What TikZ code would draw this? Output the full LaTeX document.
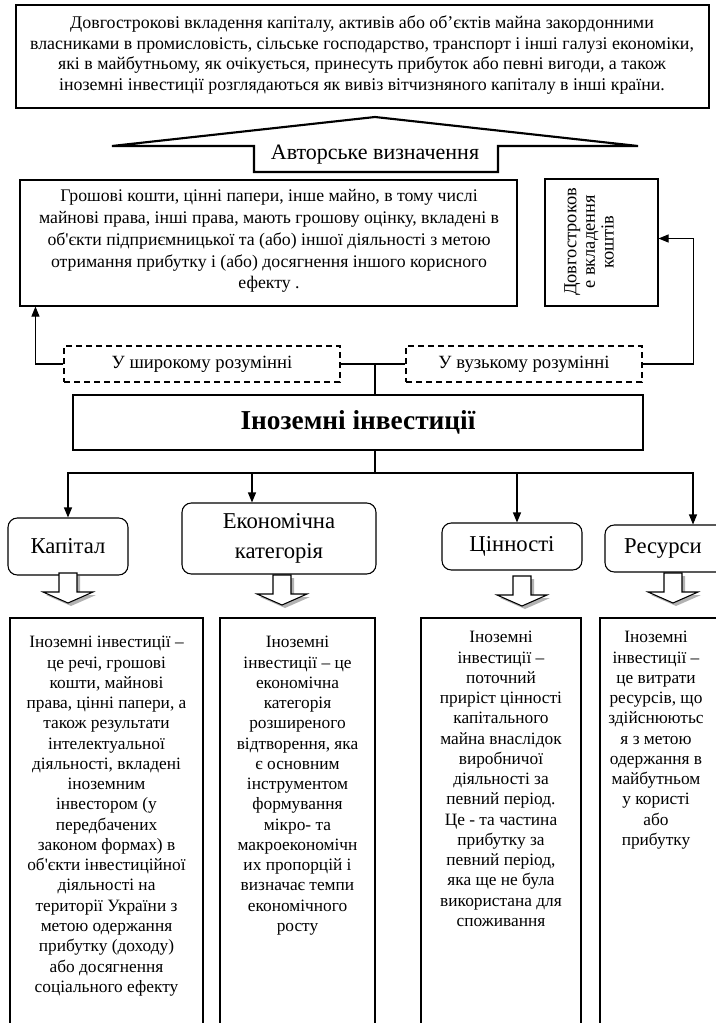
\documentclass[tikz,border=0pt]{standalone}
\usepackage{fontspec}
\setmainfont{Liberation Serif}[Ligatures=TeXOff]
\usetikzlibrary{arrows.meta,calc,fit}

\tikzset{
  frame/.style={draw, line width=0.8pt, inner sep=0pt},
  dashbox/.style={frame, dash pattern=on 4.5pt off 3pt},
  catbox/.style={frame, rounded corners=7pt},
  label text/.style={inner sep=0pt, align=center},
  link/.style={line width=0.8pt},
  arr/.style={link, -{Triangle[length=7.5pt,width=6pt]}},
  bodytext/.style={inner sep=0pt, align=center, font=\fontsize{13}{15.2}\selectfont},
  catfont/.style={font=\fontsize{17}{22}\selectfont},
  blockdown/.pic={
    \fill[black!30, shift={(3,3)}] (-9,0) -- (9,0) -- (9,19) -- (25,19) -- (0,30) -- (-25,19) -- (-9,19) -- cycle;
    \draw[line width=0.8pt, fill=white, line join=miter]
      (-9,0) -- (9,0) -- (9,19) -- (25,19) -- (0,30) -- (-25,19) -- (-9,19) -- cycle;}
}

\begin{document}
\begin{tikzpicture}[x=0.75pt,y=-0.75pt]
\useasboundingbox (0,0) rectangle (715,1023);

% author's definition
\node[frame, fit={(16,5) (709,108)}] (authordef) {};
\node[label text, font=\fontsize{13.4}{15.6}\selectfont] (authordeftxt) at (362,55)
  {Довгострокові вкладення капіталу, активів або об’єктів майна закордонними\\
   власниками в промисловість, сільське господарство, транспорт і інші галузі економіки,\\
   які в майбутньому, як очікується, принесуть прибуток або певні вигоди, а також\\
   іноземні інвестиції розглядаються як вивіз вітчизняного капіталу в інші країни.};

\draw[line width=1.6pt, line join=miter]
  (375,117) -- (638,146) -- (498,146) -- (498,172) -- (254,172) -- (254,146) -- (112,146) -- cycle;
\node[label text, font=\fontsize{16.5}{19}\selectfont] (authorlbl) at (375,155) {Авторське визначення};

% broad and narrow meaning
\node[frame, fit={(20,180) (517,306)}] (broad) {};
\node[label text, font=\fontsize{13.3}{16.4}\selectfont] (broadtxt) at (269,241)
  {Грошові кошти, цінні папери, інше майно, в тому числі\\
   майнові права, інші права, мають грошову оцінку, вкладені в\\
   об'єкти підприємницької та (або) іншої діяльності з метою\\
   отримання прибутку і (або) досягнення іншого корисного\\
   ефекту .};

\node[frame, fit={(545,179) (658,306)}] (narrow) {};
\node[rotate=90, label text, font=\fontsize{13.8}{14}\selectfont] (narrowtxt) at (589,242)
  {Довгостроков\\е вкладення\\коштів};

\node[dashbox, fit={(64,346) (340,382)}] (wide) {};
\node[label text, font=\fontsize{14}{16}\selectfont] (widetxt) at (wide.center) {У широкому розумінні};
\node[dashbox, fit={(406,346) (642,382)}] (tight) {};
\node[label text, font=\fontsize{14}{16}\selectfont] (tighttxt) at (tight.center) {У вузькому розумінні};

\coordinate (join) at (375,364);
\draw[link] (wide.east) -- (tight.west);
\draw[arr] (wide.west) -| ($(broad.south west)+(16,0)$);
\draw[arr] (tight.east) -- ++(51,0) |- ($(narrow.east)+(0,-4)$);

% central notion
\node[frame, fit={(73,395) (643,450)}] (main) {};
\node[label text, font=\bfseries\fontsize{20.5}{24}\selectfont] (maintxt) at (main.center) {Іноземні інвестиції};
\draw[link] (join) -- (join |- main.north);

\coordinate (hub) at (375,473);
\draw[link] (hub |- main.south) -- (hub);

% categories
\node[catbox, fit={(8,518) (128,575)}] (capital) {};
\node[label text, catfont] (capitaltxt) at (capital.center) {Капітал};
\node[catbox, fit={(182,503) (376,574)}] (econ) {};
\node[label text, catfont] (econtxt) at (econ.center) {Економічна\\категорія};
\node[catbox, fit={(442,523) (582,570)}] (values) {};
\node[label text, catfont] (valuestxt) at (values.center) {Цінності};
\node[catbox, fit={(605,525) (740,572)}] (resources) {};
\node[label text, catfont] (resourcestxt) at (663,548.5) {Ресурси};

\draw[arr] (hub) -| (capital.north);
\draw[arr] (hub) -| ($(econ.north)+(-27,0)$);
\draw[arr] (hub) -| ($(values.north)+(5,0)$);
\draw[arr] (hub) -| ($(resources.north)+(20.5,0)$);

\pic at (68,573) {blockdown};
\pic at (282,575) {blockdown};
\pic at (522,576) {blockdown};
\pic at (673,573) {blockdown};

% descriptions
\node[frame, fit={(10,618) (203,1040)}] (capdesc) {};
\node[frame, fit={(220,618) (375,1040)}] (econdesc) {};
\node[frame, fit={(421,618) (581,1040)}] (valdesc) {};
\node[frame, fit={(600,618) (740,1040)}] (resdesc) {};

\node[bodytext, anchor=north] (captxt) at (106.5,636)
  {Іноземні інвестиції –\\це речі, грошові\\кошти, майнові\\права, цінні папери, а\\також результати\\інтелектуальної\\діяльності, вкладені\\іноземним\\інвестором (у\\передбачених\\законом формах) в\\об'єкти інвестиційної\\діяльності на\\території України з\\метою одержання\\прибутку (доходу)\\або досягнення\\соціального ефекту};
\node[bodytext, anchor=north] (econtxt2) at (297.5,636)
  {Іноземні\\інвестиції – це\\економічна\\категорія\\розширеного\\відтворення, яка\\є основним\\інструментом\\формування\\мікро- та\\макроекономічн\\их пропорцій і\\визначає темпи\\економічного\\росту};
\node[bodytext, anchor=north] (valtxt) at (501,631)
  {Іноземні\\інвестиції –\\поточний\\приріст цінності\\капітального\\майна внаслідок\\виробничої\\діяльності за\\певний період.\\Це - та частина\\прибутку за\\певний період,\\яка ще не була\\використана для\\споживання};
\node[bodytext, anchor=north] (restxt) at (656,631)
  {Іноземні\\інвестиції –\\це витрати\\ресурсів, що\\здійснюютьс\\я з метою\\одержання в\\майбутньом\\у користі\\або\\прибутку};
\end{tikzpicture}
\end{document}
